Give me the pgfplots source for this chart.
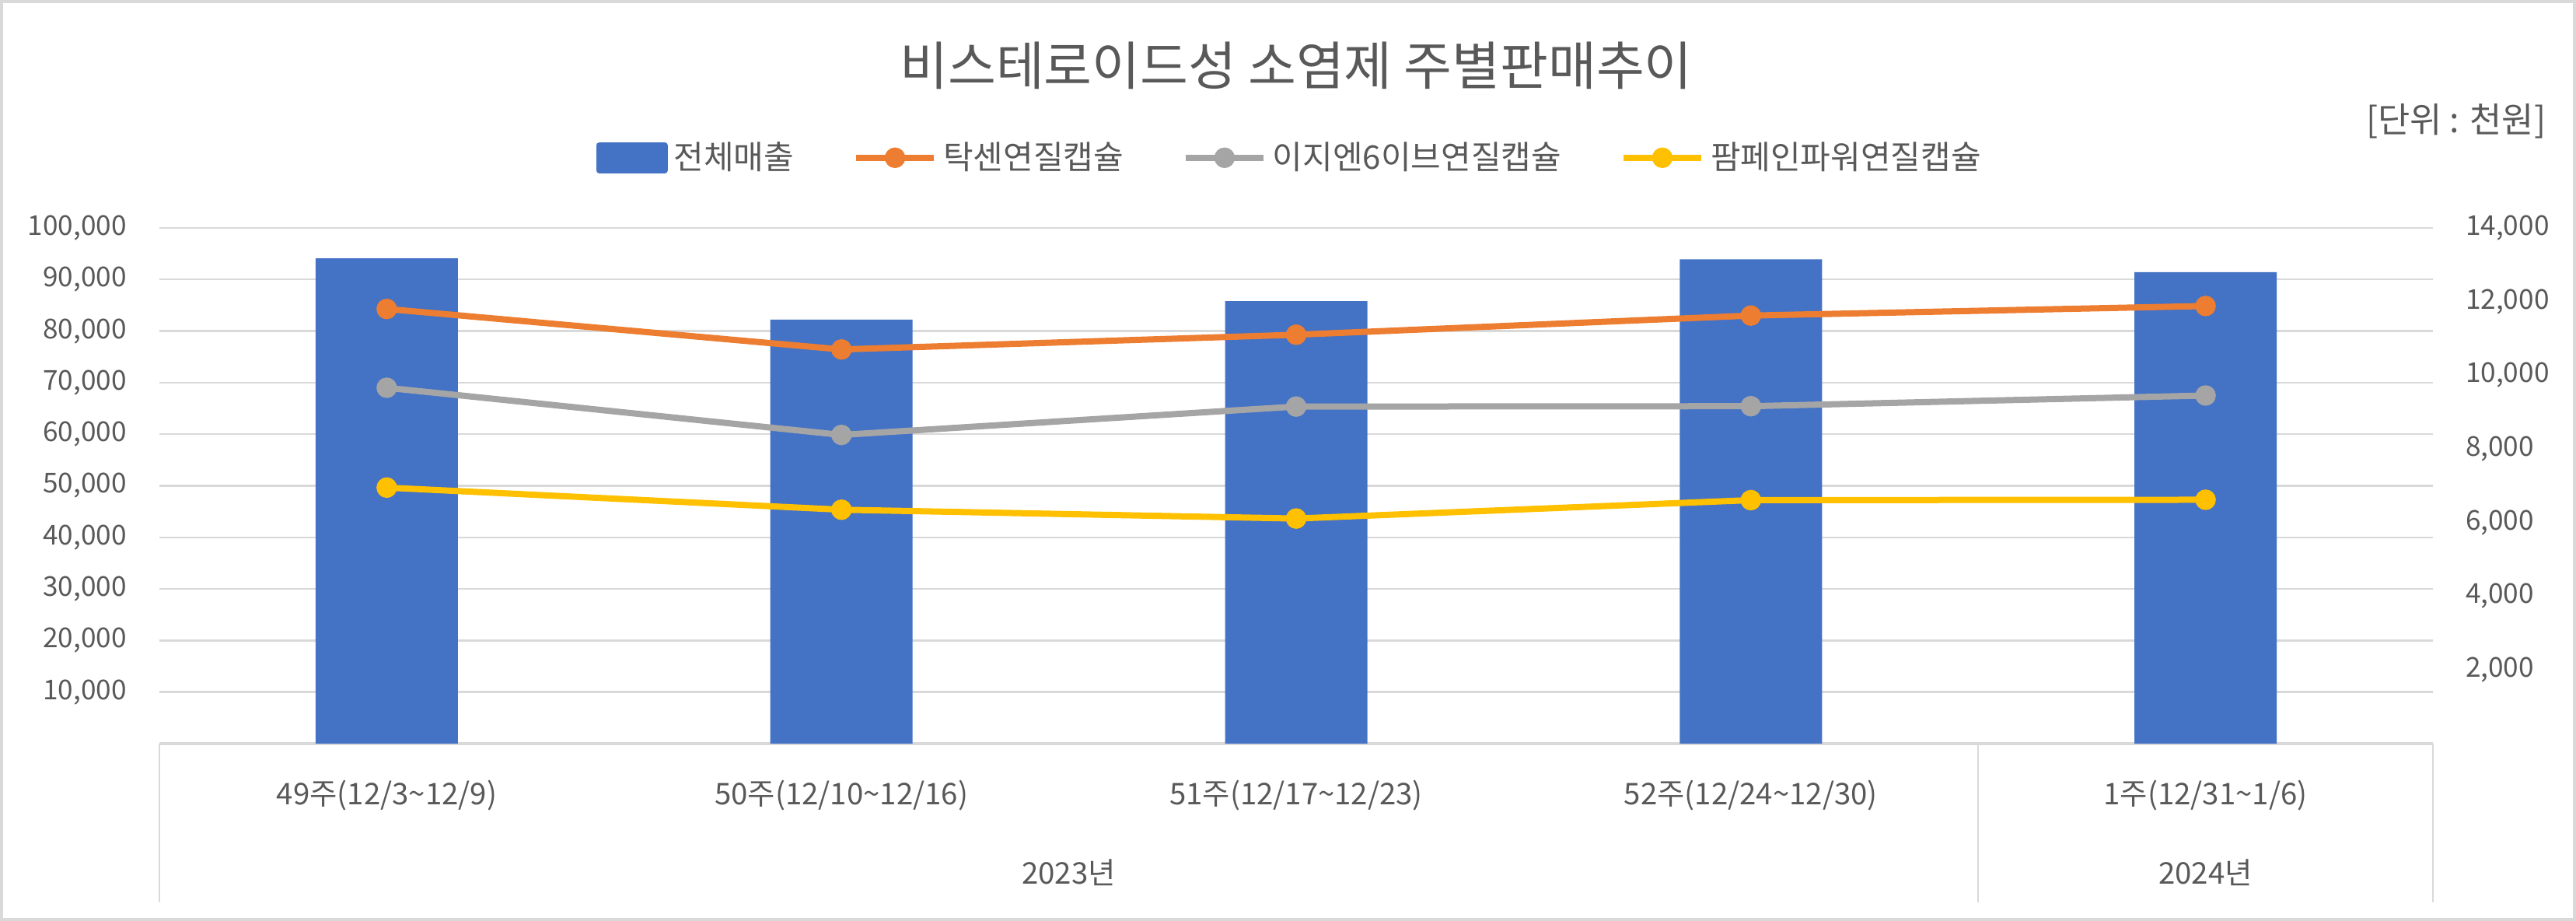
\documentclass[border=0pt]{standalone}
\usepackage{pgfplots}
\pgfplotsset{compat=1.18}
\usepackage{fontspec}
\setmainfont{Noto Sans CJK KR}

\definecolor{barblue}{HTML}{4472C4}
\definecolor{orng}{HTML}{ED7D31}
\definecolor{gry}{HTML}{A5A5A5}
\definecolor{ylw}{HTML}{FFC000}
\definecolor{txt}{HTML}{595959}
\definecolor{gridc}{HTML}{D9D9D9}

% both axes share the same box
\pgfplotsset{
  common/.style={
    scale only axis,
    width=731pt, height=165.75pt,
    at={(51.25pt,57pt)}, anchor=south west,
    xmin=0.5, xmax=5.5,
    major tick length=0pt,
    tick label style={font=\fontsize{8.8}{10}\selectfont, text=txt},
    scaled y ticks=false,
  }
}

\begin{document}
\begin{tikzpicture}

% bars, left axis
\begin{axis}[common,
  ymin=0, ymax=100000,
  ytick={10000,20000,...,100000},
  yticklabels={{10,000},{20,000},{30,000},{40,000},{50,000},{60,000},{70,000},{80,000},{90,000},{100,000}},
  ymajorgrids, grid style={draw=gridc, line width=0.6pt},
  axis x line*=bottom, axis y line*=left,
  x axis line style={draw=gridc, line width=0.8pt, -},
  y axis line style={draw=none},
  yticklabel style={xshift=-7pt},
  xtick={1,2,3,4,5},
  xticklabels={49주(12/3\textasciitilde12/9), 50주(12/10\textasciitilde12/16), 51주(12/17\textasciitilde12/23), 52주(12/24\textasciitilde12/30), 1주(12/31\textasciitilde1/6)},
  xticklabel style={anchor=center, yshift=-16.75pt, font=\fontsize{9.6}{11}\selectfont},
  ybar, bar width=45.75pt,
  clip=false,
]
\addplot[fill=barblue, draw=none] coordinates {
  (1,94100) (2,82200) (3,85800) (4,93900) (5,91400)
};
\draw[gridc, line width=0.5pt] (axis cs:0.5,0) -- ++(0pt,-51pt);
\draw[gridc, line width=0.5pt] (axis cs:4.5,0) -- ++(0pt,-51pt);
\draw[gridc, line width=0.5pt] (axis cs:5.5,0) -- ++(0pt,-51pt);
\node[font=\fontsize{9.6}{11}\selectfont, text=txt] at (axis cs:2.5,0) [yshift=-41.5pt] {2023년};
\node[font=\fontsize{9.6}{11}\selectfont, text=txt] at (axis cs:5,0) [yshift=-41.5pt] {2024년};
\end{axis}

% lines, right axis
\begin{axis}[common,
  ymin=0, ymax=14000,
  ytick={2000,4000,...,14000},
  yticklabels={{2,000},{4,000},{6,000},{8,000},{10,000},{12,000},{14,000}},
  hide x axis,
  axis y line*=right,
  y axis line style={draw=none},
  yticklabel style={xshift=7pt},
  every axis plot/.append style={line width=2pt, mark=*, mark size=2.8pt, mark options={line width=1pt}, line join=round},
  legend image code/.code={\draw[mark repeat=2,mark phase=2,#1] plot coordinates {(0pt,0pt)(12.5pt,0pt)(25pt,0pt)};},
  legend columns=4,
  legend style={draw=none, fill=none, at={(0.498,1.136)}, anchor=center,
    font=\fontsize{10.5}{12}\selectfont, text=txt,
    /tikz/every even column/.append style={column sep=17pt}},
  legend cell align=left,
]
\addlegendimage{legend image code/.code={\fill[barblue] (0pt,-4pt) rectangle (21pt,4pt);}}
\addlegendentry{전체매출}
\addplot[color=orng] coordinates {
  (1,11800) (2,10700) (3,11100) (4,11620) (5,11880)
};
\addlegendentry{탁센연질캡슐}
\addplot[color=gry] coordinates {
  (1,9660) (2,8380) (3,9150) (4,9160) (5,9450)
};
\addlegendentry{이지엔6이브연질캡슐}
\addplot[color=ylw] coordinates {
  (1,6950) (2,6350) (3,6110) (4,6610) (5,6620)
};
\addlegendentry{팜페인파워연질캡슐}
\end{axis}

\node[font=\fontsize{16.8}{20}\selectfont, text=txt] at (416.75pt,275pt) {비스테로이드성 소염제 주별판매추이};
\node[anchor=east, inner xsep=0pt, font=\fontsize{11.2}{13}\selectfont, text=txt] at (818.75pt,257pt) {[단위 : 천원]};

\draw[gridc, line width=1pt] (0.5pt,0.5pt) rectangle (827.75pt,295.5pt);
\pgfresetboundingbox
\useasboundingbox (0,0) rectangle (828.25pt,296pt);
\end{tikzpicture}
\end{document}
